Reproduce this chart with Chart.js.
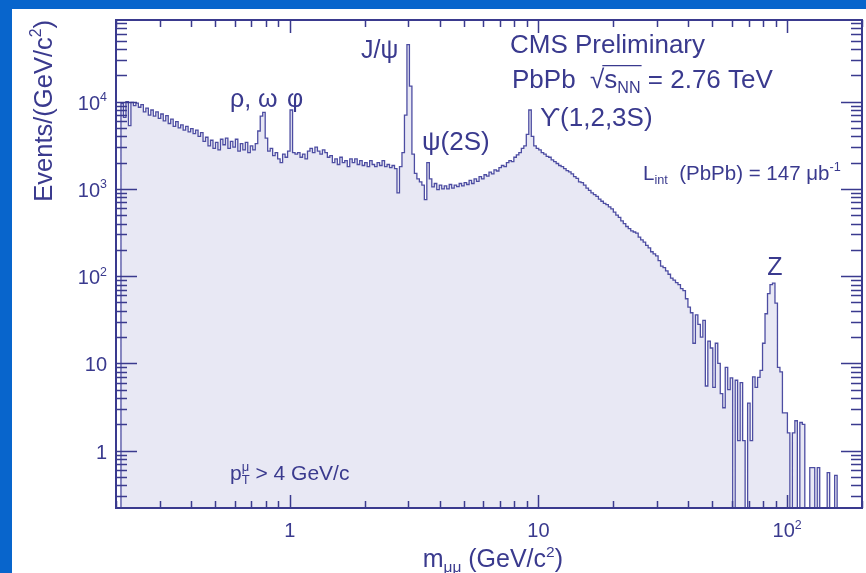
<!DOCTYPE html>
<html>
<head>
<meta charset="utf-8">
<script src="https://cdn.jsdelivr.net/npm/chart.js@4.4.1/dist/chart.umd.min.js"></script>
<style>
  html, body { margin: 0; padding: 0; background: #0865cc; }
  #wrap { width: 866px; height: 573px; }
  canvas { display: block; }
</style>
</head>
<body>
<div id="wrap"><canvas id="c" width="866" height="573"></canvas></div>
<script>
// Dimuon invariant-mass spectrum, PbPb at sqrt(s_NN) = 2.76 TeV.
// Histogram range (GeV/c^2); bins are equal-width in log10(mass).
const massRange = [0.2, 200];

// Events/(GeV/c^2) per bin, low mass to high mass (300 bins).
const counts = [
  0, 0, 9500, 6600, 10000, 5300, 9800, 9000, 9600, 8600,
  9200, 7600, 8400, 7000, 8000, 6800, 7600, 6400, 7200, 6000,
  6900, 5600, 6300, 5200, 5900, 5000, 5400, 4700, 5200, 4500,
  4900, 4300, 4700, 4000, 4400, 3500, 3900, 3100, 3600, 2900,
  3400, 2800, 3700, 3200, 3800, 2900, 3500, 3000, 3700, 2700,
  3300, 2800, 3400, 2600, 3100, 2800, 3300, 4600, 6800, 7500,
  3800, 2700, 2900, 2400, 2600, 2200, 2000, 2500, 2300, 2700,
  8000, 2600, 2500, 2600, 2300, 2500, 2200, 2700, 2900, 2600,
  3000, 2700, 2500, 2800, 2600, 2300, 2400, 2000, 2200, 1900,
  2300, 2000, 2100, 1800, 2200, 2000, 2200, 1900, 2100, 1850,
  2000, 1800, 2100, 1900, 1800, 2000, 1850, 2100, 1800, 1900,
  1750, 1850, 1700, 900, 1800, 2600, 7000, 45000, 15000, 2500,
  1500, 1300, 1200, 1100, 750, 2000, 1300, 1050, 1150, 980,
  1100, 1000, 1080, 1000, 1120, 1020, 1100, 1060, 1150, 1080,
  1180, 1120, 1250, 1150, 1300, 1220, 1380, 1300, 1450, 1400,
  1550, 1480, 1650, 1600, 1750, 1850, 1800, 2000, 2100, 2050,
  2300, 2450, 2600, 2900, 3100, 4200, 8000, 4000, 3100, 2900,
  2800, 2600, 2500, 2350, 2300, 2150, 2050, 1950, 1850, 1800,
  1700, 1620, 1560, 1480, 1380, 1320, 1200, 1180, 1100, 1020,
  960, 900, 860, 820, 760, 720, 680, 660, 620, 590,
  540, 500, 470, 430, 400, 370, 350, 330, 320, 310,
  280, 260, 245, 225, 210, 190, 180, 170, 150, 130,
  125, 115, 105, 95, 90, 84, 80, 72, 68, 55,
  44, 38, 17, 36, 28, 20, 31, 5.5, 18, 15,
  5.3, 17, 10, 4.5, 3.1, 9, 5, 6.8, 0, 6.4,
  1.3, 6, 1.3, 0, 3.5, 1.3, 7, 5.3, 6.9, 8.3,
  17, 37, 63, 80, 83, 49, 9, 8, 2.7, 2.7,
  1.6, 0, 1.6, 2.2, 0, 2.1, 2.0, 0, 0, 0.64,
  0.64, 0, 0.64, 0, 0, 0, 0.56, 0, 0, 0.52,
  0, 0, 0, 0, 0, 0, 0, 0, 0, 0
];

// Axis ranges and labelled ticks
const xRange = [0.2, 200];
const yRange = [0.22, 86000];
const xTickValues = [1, 10, 100];
const xTickLabels = [[['1']], [['10']], [['10'], ['2', 'sup']]];
const yTickValues = [1, 10, 100, 1000, 10000];
const yTickLabels = [[['1']], [['10']], [['10'], ['2', 'sup']], [['10'], ['3', 'sup']], [['10'], ['4', 'sup']]];

// ---- step-histogram points at the bin low edges (empty bins sit on the axis floor) ----
const nBins = counts.length;
const lgLo = Math.log10(massRange[0]);
const lgStep = (Math.log10(massRange[1]) - lgLo) / nBins;
const floorY = v => (v > 0 ? v : yRange[0]);
const points = counts.map((v, i) => ({ x: Math.pow(10, lgLo + i * lgStep), y: floorY(v) }));
points.push({ x: massRange[1], y: floorY(counts[nBins - 1]) });

const INK = '#3a3a8e';
const LINE = '#4d4da2';
const FILL = '#e8e8f4';
const FONT = '"Liberation Sans", Arial, Helvetica, sans-serif';

function fontOf(size) { return size + 'px ' + FONT; }

// Text built from pieces: [text], [text,'sup'], [text,'sub'], optional third flag
// 'stack' = do not advance after this piece, 'over' = overline this piece.
function richWidth(ctx, parts, size) {
  let w = 0;
  for (const p of parts) {
    const s = p[1] ? size * 0.62 : size;
    ctx.font = fontOf(s);
    if (p[2] !== 'stack') w += ctx.measureText(p[0]).width;
  }
  return w;
}
function drawRich(ctx, parts, x, y, size, align) {
  const w = richWidth(ctx, parts, size);
  let cx = align === 'center' ? x - w / 2 : align === 'right' ? x - w : x;
  ctx.textAlign = 'left';
  ctx.textBaseline = 'alphabetic';
  let ovA = null, ovB = null;
  for (const p of parts) {
    const s = p[1] ? size * 0.62 : size;
    ctx.font = fontOf(s);
    let dy = 0;
    if (p[1] === 'sup') dy = -size * 0.42;
    if (p[1] === 'sub') dy = size * 0.2;
    ctx.fillText(p[0], cx, y + dy);
    const pw = ctx.measureText(p[0]).width;
    if (p[2] === 'over') {
      if (ovA === null) ovA = cx;
      ovB = cx + pw;
    }
    if (p[2] !== 'stack') cx += pw;
  }
  if (ovA !== null) {
    ctx.save();
    ctx.lineWidth = 1.4;
    ctx.strokeStyle = ctx.fillStyle;
    ctx.beginPath();
    ctx.moveTo(ovA - 2, y - size * 0.86);
    ctx.lineTo(ovB + 1, y - size * 0.86);
    ctx.stroke();
    ctx.restore();
  }
  return w;
}

const decorPlugin = {
  id: 'decor',
  beforeDraw(chart) {
    const ctx = chart.ctx;
    ctx.save();
    ctx.fillStyle = '#0865cc';
    ctx.fillRect(0, 0, chart.width, chart.height);
    ctx.fillStyle = '#ffffff';
    ctx.fillRect(12, 9, chart.width - 12, chart.height - 9);
    ctx.restore();
  },
  afterDatasetsDraw(chart) {
    const ctx = chart.ctx;
    const { left, right, top, bottom } = chart.chartArea;
    const xs = chart.scales.x, ys = chart.scales.y;
    ctx.save();

    // frame
    ctx.strokeStyle = INK;
    ctx.lineWidth = 2;
    ctx.strokeRect(left, top, right - left, bottom - top);

    // inward ticks on all four sides
    ctx.lineWidth = 1.5;
    ctx.beginPath();
    for (let d = -1; d <= 2; d++) {
      for (let m = 1; m <= 9; m++) {
        const v = m * Math.pow(10, d);
        if (v < xs.min || v > xs.max) continue;
        const px = Math.round(xs.getPixelForValue(v)) + 0.5;
        const len = m === 1 ? 13 : 7;
        ctx.moveTo(px, bottom); ctx.lineTo(px, bottom - len);
        ctx.moveTo(px, top); ctx.lineTo(px, top + len);
      }
    }
    for (let d = -1; d <= 4; d++) {
      for (let m = 1; m <= 9; m++) {
        const v = m * Math.pow(10, d);
        if (v < ys.min || v > ys.max) continue;
        const py = Math.round(ys.getPixelForValue(v)) + 0.5;
        const len = m === 1 ? 21 : 11;
        ctx.moveTo(left, py); ctx.lineTo(left + len, py);
        ctx.moveTo(right, py); ctx.lineTo(right - len, py);
      }
    }
    ctx.stroke();

    ctx.fillStyle = INK;
    // tick labels
    xTickValues.forEach((v, i) => {
      drawRich(ctx, xTickLabels[i], xs.getPixelForValue(v), bottom + 29, 20, 'center');
    });
    yTickValues.forEach((v, i) => {
      drawRich(ctx, yTickLabels[i], left - 9, ys.getPixelForValue(v) + 8, 20, 'right');
    });

    // axis titles
    drawRich(ctx, [['m'], ['\u03bc\u03bc', 'sub'], [' (GeV/c'], ['2', 'sup'], [')']], 563, 567, 25, 'right');
    ctx.save();
    ctx.translate(52, 20);
    ctx.rotate(-Math.PI / 2);
    drawRich(ctx, [['Events/(GeV/c'], ['2', 'sup'], [')']], 0, 0, 25.5, 'right');
    ctx.restore();

    // resonance labels
    drawRich(ctx, [['\u03c1, \u03c9']], 230, 107, 25, 'left');
    drawRich(ctx, [['\u03c6']], 287, 107, 25, 'left');
    drawRich(ctx, [['J/\u03c8']], 361, 58, 25, 'left');
    drawRich(ctx, [['\u03c8(2S)']], 422, 150, 26, 'left');
    drawRich(ctx, [['\u03d2(1,2,3S)']], 540, 126, 26, 'left');
    drawRich(ctx, [['Z']], 775, 275, 25, 'center');

    // run information
    drawRich(ctx, [['CMS Preliminary']], 510, 53, 26, 'left');
    drawRich(ctx, [['PbPb  '], ['\u221a'], ['s', '', 'over'], ['NN', 'sub', 'over'], [' = 2.76 TeV']], 512, 88, 26, 'left');
    drawRich(ctx, [['L'], ['int', 'sub'], ['  (PbPb) = 147 \u03bcb'], ['-1', 'sup']], 643, 180, 20.5, 'left');
    drawRich(ctx, [['p'], ['\u03bc', 'sup', 'stack'], ['T', 'sub'], [' > 4 GeV/c']], 230, 480, 21, 'left');

    ctx.restore();
  }
};

new Chart(document.getElementById('c'), {
  type: 'line',
  data: {
    datasets: [{
      data: points,
      stepped: true,
      fill: 'start',
      backgroundColor: FILL,
      borderColor: LINE,
      borderWidth: 1.3,
      pointRadius: 0,
      tension: 0
    }]
  },
  options: {
    responsive: false,
    animation: false,
    devicePixelRatio: 1,
    layout: { padding: { left: 116, top: 20, right: 4, bottom: 65 } },
    plugins: { legend: { display: false }, tooltip: { enabled: false } },
    scales: {
      x: { type: 'logarithmic', min: xRange[0], max: xRange[1], display: false },
      y: { type: 'logarithmic', min: yRange[0], max: yRange[1], display: false }
    }
  },
  plugins: [decorPlugin]
});
</script>
</body>
</html>
